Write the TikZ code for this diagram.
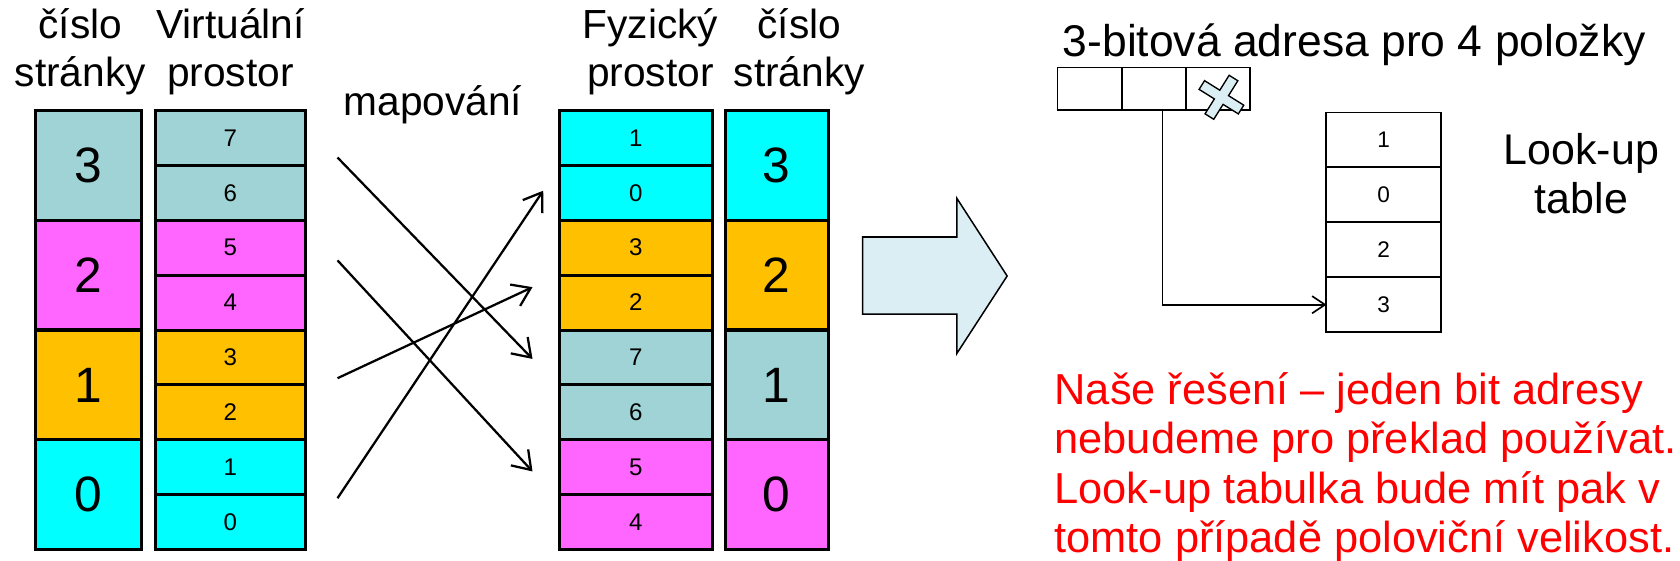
\documentclass[tikz,border=0pt]{standalone}
\usepackage{fontspec}
\setmainfont{Liberation Sans}
\usetikzlibrary{arrows.meta,positioning}
\definecolor{pgcyan}{HTML}{00FFFF}
\definecolor{pgmag}{HTML}{FF66FF}
\definecolor{pgorange}{HTML}{FFC000}
\definecolor{pggray}{HTML}{9FD3D6}
\definecolor{paleblue}{HTML}{DAEEF3}
\tikzset{
  head/.style    ={align=center,inner sep=0pt,font=\fontsize{27}{32}\selectfont},
  bigcell/.style ={draw,line width=2pt,minimum height=2.5625cm,inner sep=0pt,outer sep=0pt,font=\fontsize{33}{38}\selectfont},
  smallcell/.style={draw,line width=2pt,minimum height=1.28125cm,inner sep=0pt,outer sep=0pt,font=\fontsize{16}{18}\selectfont},
  bitcell/.style ={draw,line width=1.3pt,minimum width=1.5cm,minimum height=1cm,inner sep=0pt,outer sep=0pt},
  lucell/.style  ={draw,line width=1.3pt,minimum width=2.675cm,minimum height=1.28125cm,inner sep=0pt,outer sep=0pt,font=\fontsize{15}{17}\selectfont},
  map/.style     ={line width=1.5pt,-{Straight Barb[length=4mm,width=5.5mm,line width=1.5pt]}},
  link/.style    ={line width=1.1pt,-{Straight Barb[length=3mm,width=4mm,line width=1.1pt]}},
  note/.style    ={align=left,inner sep=0pt,text=red,font=\fontsize{28.8}{32.8}\selectfont},
}
\begin{document}
\begin{tikzpicture}[y=-1cm]
  \useasboundingbox (0,0) rectangle (39.2,13.075);
  % headers
  \node[head] (hnum) at (1.875,1.2){číslo\\stránky};
  \node[head] (hvirt) at (5.375,1.2){Virtuální\\prostor};
  \node[head] (hphys) at (15.175,1.2){Fyzický\\prostor};
  \node[head] (hnum2) at (18.65,1.2){číslo\\stránky};
  \node[head] (hmap) at (10.1,2.45){mapování};
  % virtual side
  \foreach \n/\c [count=\i from 0] in {3/pggray,2/pgmag,1/pgorange,0/pgcyan}
    \node[bigcell,minimum width=2.475cm,fill=\c] (vp\n) at (2.0625,3.856+\i*2.5625){\n};
  \foreach \n/\c [count=\i from 0] in {7/pggray,6/pggray,5/pgmag,4/pgmag,3/pgorange,2/pgorange,1/pgcyan,0/pgcyan}
    \node[smallcell,minimum width=3.5cm,fill=\c] (v\n) at (5.375,3.216+\i*1.28125){\n};
  % physical side
  \foreach \n/\c [count=\i from 0] in {1/pgcyan,0/pgcyan,3/pgorange,2/pgorange,7/pggray,6/pggray,5/pgmag,4/pgmag}
    \node[smallcell,minimum width=3.575cm,fill=\c] (f\n) at (14.8375,3.216+\i*1.28125){\n};
  \foreach \n/\c [count=\i from 0] in {3/pgcyan,2/pgorange,1/pggray,0/pgmag}
    \node[bigcell,minimum width=2.4cm,fill=\c] (fp\n) at (18.125,3.856+\i*2.5625){\n};
  % mapping arrows
  \coordinate (m3s) at (7.875,3.675);  \coordinate (m3e) at (12.425,8.375);
  \coordinate (m2s) at (7.875,6.075);  \coordinate (m2e) at (12.425,11.0);
  \coordinate (m1s) at (7.875,8.825);  \coordinate (m1e) at (12.425,6.7);
  \coordinate (m0s) at (7.875,11.625); \coordinate (m0e) at (12.675,4.45);
  \foreach \k in {0,1,2,3}{\draw[map](m\k s)--(m\k e);}
  % block arrow
  \draw[fill=paleblue,line width=1pt] (20.125,5.53)--(22.325,5.53)--(22.325,4.625)--(23.5,6.44)
    --(22.325,8.25)--(22.325,7.33)--(20.125,7.33)--cycle;
  % address bits
  \node[head,font=\fontsize{29.5}{34}\selectfont] (haddr) at (31.6,1.05){3-bitová adresa pro 4 položky};
  \foreach \k in {0,1,2}
    \node[bitcell] (b\k) at (25.425+\k*1.5,2.075){};
  \draw[fill=paleblue,line width=0.9pt,shift={(28.5,2.27)},rotate=-32]
    (-0.12,-0.53)--(0.12,-0.53)--(0.12,-0.12)--(0.54,-0.12)--(0.54,0.12)--(0.12,0.12)
    --(0.12,0.53)--(-0.12,0.53)--(-0.12,0.12)--(-0.54,0.12)--(-0.54,-0.12)--(-0.12,-0.12)--cycle;
  % look-up table
  \foreach \v [count=\i from 0] in {1,0,2,3}
    \node[lucell] (lu\i) at (32.2875,3.266+\i*1.28125){\v};
  \draw[link] (b1.south) ++(0.2,0) |- (lu3.west);
  \node[head,font=\fontsize{28.5}{33}\selectfont] (hlut) at (36.9,4.05){Look-up\\table};
  \node[note,anchor=west] (sol) at (24.6,10.9){Naše řešení – jeden bit adresy\\nebudeme pro překlad používat.\\Look-up tabulka bude mít pak v\\tomto případě poloviční velikost.};
\end{tikzpicture}
\end{document}
